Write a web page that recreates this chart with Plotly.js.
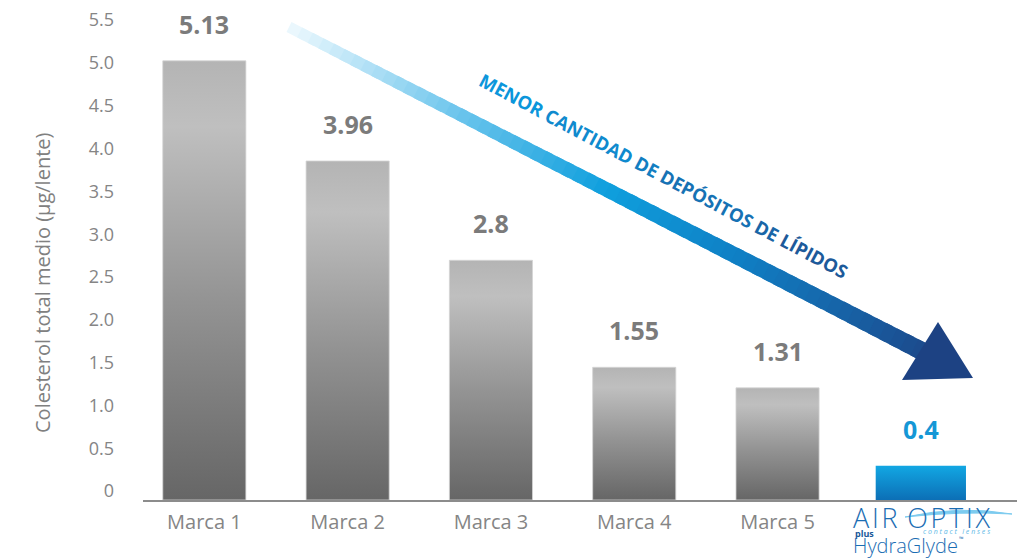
<!DOCTYPE html>
<html>
<head>
<meta charset="utf-8">
<script src="https://cdn.plot.ly/plotly-3.0.1.min.js"></script>
<style>
  html, body { margin: 0; padding: 0; background: #fff; }
  #myDiv { width: 1017px; height: 558px; }
</style>
</head>
<body>
<div id="myDiv"></div>
<script>
// data
var marcas = ['Marca 1', 'Marca 2', 'Marca 3', 'Marca 4', 'Marca 5', 'AIR OPTIX plus HydraGlyde'];
var colesterol = [5.13, 3.96, 2.8, 1.55, 1.31, 0.4];
var etiquetas = ['5.13', '3.96', '2.8', '1.55', '1.31', '0.4'];
var yTicks = [0, 0.5, 1, 1.5, 2, 2.5, 3, 3.5, 4, 4.5, 5, 5.5];
var yTickText = ['0', '0.5', '1.0', '1.5', '2.0', '2.5', '3.0', '3.5', '4.0', '4.5', '5.0', '5.5'];
var flecha = ['MENOR', 'CANTIDAD', 'DE', 'DEPÓSITOS', 'DE', 'LÍPIDOS'];

// geometry of the page (pixels)
var ml = 143, mt = 10, W = 1017, H = 558, mb = 58;
var plotW = W - ml, plotH = H - mt - mb;
function px(x) { return (x - ml) / plotW; }
function py(y) { return (H - mb - y) / plotH; }

function hex2rgb(h) {
    return [parseInt(h.substr(1, 2), 16), parseInt(h.substr(3, 2), 16), parseInt(h.substr(5, 2), 16)];
}
function mix(stops, t) {
    for (var i = 0; i < stops.length - 1; i++) {
        if (t <= stops[i + 1][0]) {
            var a = hex2rgb(stops[i][1]), b = hex2rgb(stops[i + 1][1]);
            var f = (t - stops[i][0]) / (stops[i + 1][0] - stops[i][0]);
            return 'rgb(' + [0, 1, 2].map(function (k) { return Math.round(a[k] + (b[k] - a[k]) * f); }).join(',') + ')';
        }
    }
    return stops[stops.length - 1][1];
}

var grayScale = [[0, '#666666'], [0.45, '#939393'], [0.85, '#bfbfbf'], [1, '#b4b4b4']];
var blueScale = [[0, '#0c6fb6'], [1, '#12a7e3']];

var data = [];
colesterol.forEach(function (v, i) {
    var last = i === colesterol.length - 1;
    var w = last ? 0.63 : 0.58;
    data.push({
        type: 'scatter',
        x: [i - w / 2, i - w / 2, i + w / 2, i + w / 2, i - w / 2],
        y: [0, v, v, 0, 0],
        mode: last ? 'none' : 'lines',
        line: {color: '#d4d4d4', width: 0.8},
        fill: 'toself',
        fillgradient: {type: 'vertical', colorscale: last ? blueScale : grayScale},
        hoverinfo: 'skip',
        showlegend: false
    });
});

var annotations = colesterol.map(function (v, i) {
    var last = i === colesterol.length - 1;
    return {
        x: i, y: v, xref: 'x', yref: 'y',
        text: '<b>' + etiquetas[i] + '</b>',
        showarrow: false, yanchor: 'middle', yshift: 37,
        font: {family: 'Open Sans', size: 25, color: last ? '#1597d6' : '#7b7b7b'}
    };
});

// y axis title
annotations.push({
    xref: 'paper', yref: 'paper', x: px(42), y: py(283),
    text: 'Colesterol total medio (µg/lente)', textangle: -90, showarrow: false,
    xanchor: 'center', yanchor: 'middle',
    font: {family: 'Open Sans', size: 20, color: '#808080'}
});

// arrow label
var txtStops = [[0, '#0b96db'], [1, '#1d5a9a']];
var parts = flecha.map(function (w, k) {
    return '<span style="color:' + mix(txtStops, k / (flecha.length - 1)) + '">' + w + '</span>';
});
annotations.push({
    xref: 'paper', yref: 'paper', x: px(664), y: py(175),
    text: '<b>' + parts.join(' ') + '</b>', textangle: 28, showarrow: false,
    xanchor: 'center', yanchor: 'middle',
    font: {family: 'Open Sans', size: 18.5, color: '#1280c8'}
});

// logo under the last category
var hs = '\u200A';
annotations.push({
    xref: 'paper', yref: 'paper', x: px(851), y: py(517), xanchor: 'left', yanchor: 'middle',
    text: ['A', 'I', 'R'].join(hs) + ' ' + hs + ['O', 'P', 'T', 'I', 'X'].join(hs), showarrow: false,
    font: {family: 'Open Sans', size: 27, weight: 300, color: '#1b6db3'}
});
annotations.push({
    xref: 'paper', yref: 'paper', x: px(853), y: py(533), xanchor: 'left', yanchor: 'middle',
    text: '<b>plus</b>', showarrow: false,
    font: {family: 'Open Sans', size: 9, color: '#1b5a9a'}
});
annotations.push({
    xref: 'paper', yref: 'paper', x: px(851), y: py(545), xanchor: 'left', yanchor: 'middle',
    text: 'HydraGlyde', showarrow: false,
    font: {family: 'Open Sans', size: 20, weight: 300, color: '#1b6db3'}
});
annotations.push({
    xref: 'paper', yref: 'paper', x: px(957), y: py(539), xanchor: 'left', yanchor: 'middle',
    text: '™', showarrow: false,
    font: {family: 'Open Sans', size: 6, color: '#1b6db3'}
});
annotations.push({
    xref: 'paper', yref: 'paper', x: px(956), y: py(531), xanchor: 'center', yanchor: 'middle',
    text: '<i>c o n t a c t   l e n s e s</i>', showarrow: false,
    font: {family: 'Open Sans', size: 7, color: '#5bb8e6'}
});

// arrow shaft, drawn as small quads for the gradient
var shapes = [];
var x0 = 289, y0 = 27, x1 = 925, slope = 0.512;
var len = Math.sqrt(1 + slope * slope);
var nx = -slope / len, ny = 1 / len;   // normal (pixels, y down)
var shaftStops = [[0, '#eef9fe'], [0.27, '#6ac4ec'], [0.5, '#0f9fdd'], [0.7, '#0f80c5'], [0.85, '#1667ab'], [1, '#1c4a8c']];
var N = 60;
for (var s = 0; s < N; s++) {
    var ta = s / N, tb = Math.min(1, (s + 1.6) / N);
    var xa = x0 + (x1 - x0) * ta, xb = x0 + (x1 - x0) * tb;
    var ya = y0 + slope * (xa - x0), yb = y0 + slope * (xb - x0);
    var ha = (11 + 7 * ta) / 2, hb = (11 + 7 * tb) / 2;
    var p = 'M' + px(xa + nx * ha) + ',' + py(ya + ny * ha) +
        ' L' + px(xb + nx * hb) + ',' + py(yb + ny * hb) +
        ' L' + px(xb - nx * hb) + ',' + py(yb - ny * hb) +
        ' L' + px(xa - nx * ha) + ',' + py(ya - ny * ha) + ' Z';
    shapes.push({type: 'path', xref: 'paper', yref: 'paper', path: p,
        fillcolor: mix(shaftStops, (s + 0.5) / N), line: {width: 0}, layer: 'above'});
}
// arrow head
shapes.push({type: 'path', xref: 'paper', yref: 'paper', layer: 'above',
    path: 'M' + px(938) + ',' + py(322) + ' L' + px(973) + ',' + py(378) + ' L' + px(902) + ',' + py(380) + ' Z',
    fillcolor: '#1d4283', line: {width: 0}});
// logo swoosh
shapes.push({type: 'path', xref: 'paper', yref: 'paper', layer: 'above',
    path: 'M' + px(905) + ',' + py(517) + ' Q' + px(960) + ',' + py(505) + ' ' + px(1012) + ',' + py(514) +
        ' Q' + px(960) + ',' + py(511) + ' ' + px(905) + ',' + py(517) + ' Z',
    fillcolor: '#7ccbef', line: {color: '#7ccbef', width: 1}});

var layout = {
    width: W, height: H,
    margin: {l: ml, r: 0, t: mt, b: mb},
    paper_bgcolor: '#ffffff',
    plot_bgcolor: '#ffffff',
    font: {family: 'Open Sans', color: '#858585'},
    xaxis: {
        range: [-0.428, 5.671],
        tickvals: [0, 1, 2, 3, 4],
        ticktext: marcas.slice(0, 5),
        tickfont: {family: 'Open Sans', size: 20, color: '#858585'},
        ticklabelstandoff: 3,
        showgrid: false, zeroline: false,
        showline: true, linecolor: '#8c8c8c', linewidth: 1.5,
        ticks: '', fixedrange: true
    },
    yaxis: {
        range: [0, 5.724],
        tickvals: yTicks,
        ticktext: yTickText,
        tickfont: {family: 'Open Sans', size: 18, color: '#858585'},
        ticklabelshift: -9,
        ticklabelstandoff: 28,
        showgrid: false, zeroline: false, showline: false,
        ticks: '', fixedrange: true
    },
    annotations: annotations,
    shapes: shapes
};

Plotly.newPlot('myDiv', data, layout, {displayModeBar: false, staticPlot: true});
</script>
</body>
</html>
